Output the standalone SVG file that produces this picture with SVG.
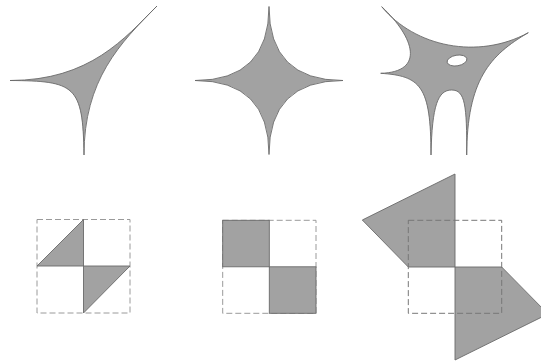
<svg xmlns="http://www.w3.org/2000/svg" width="541" height="363" viewBox="0 0 541 363">
<style>
.shape{fill:#a2a2a2;stroke:#6a6a6a;stroke-width:0.9;stroke-linejoin:miter}
.hole{fill:#ffffff;stroke:#6a6a6a;stroke-width:0.9}
.dash{fill:none;stroke:#9a9a9a;stroke-width:1;stroke-dasharray:6,3}
.dash2{fill:none;stroke:#777777;stroke-width:1;stroke-dasharray:6,3}
</style>
<rect width="541" height="363" fill="#ffffff"/>
<g id="warped-star-left">
<path class="shape" d="M10,80.5 C90,80.5 125,38 157,6 C120,43 84,80 84,155 C83,85 75,81 10,80.5 Z"/>
</g>
<g id="star-middle">
<path class="shape" d="M269,6.5 Q269,80.5 343,80.5 Q269,80.5 269,154.5 Q269,80.5 195,80.5 Q269,80.5 269,6.5 Z"/>
</g>
<g id="warped-star-right">
<path class="shape" d="M381.7,6.7 C415,47 478,60 528.3,32.7 C490,55 467,80 466.7,155 C467,105 465,90 451.7,90 C438,90 432,105 431,155 C431,85 420,76 380.7,73.3 C425,72 415,38 381.7,6.7 Z"/>
<ellipse class="hole" cx="457" cy="60.5" rx="10" ry="5.3" transform="rotate(-10 457 60.5)"/>
</g>
<g id="triangles-left">
<rect class="dash" x="37" y="219.5" width="93" height="93.5"/>
<polygon class="shape" points="37,266 83.5,219.5 83.5,266"/>
<polygon class="shape" points="83.5,266 130,266 83.5,313"/>
</g>
<g id="squares-middle">
<rect class="dash" x="222.7" y="220.3" width="93.3" height="93"/>
<rect class="shape" x="222.7" y="220.3" width="46.6" height="46.5"/>
<rect class="shape" x="269.3" y="266.8" width="46.7" height="46.5"/>
</g>
<g id="pentagons-right">
<polygon class="shape" points="455,174 362.3,220 408.3,267 455,267"/>
<polygon class="shape" points="455,267 501.7,267 548,314 455,360"/>
<rect class="dash2" x="408.3" y="220.3" width="93.4" height="93"/>
</g>
</svg>
